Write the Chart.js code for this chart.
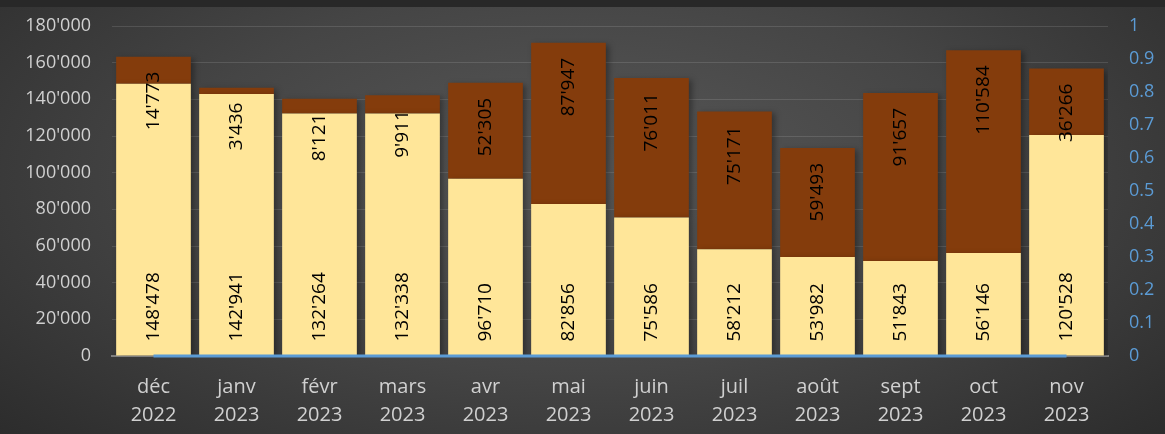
<!DOCTYPE html>
<html lang="fr">
<head>
<meta charset="utf-8">
<title>Graphique mensuel</title>
<script src="https://cdn.jsdelivr.net/npm/chart.js@4.4.1/dist/chart.umd.min.js"></script>
<style>
    html, body { margin: 0; padding: 0; }
    body {
        width: 1165px;
        height: 434px;
        overflow: hidden;
        background: #282828;
    }
    #fond {
        position: absolute;
        left: 0; top: 7px;
        width: 1165px; height: 427px;
        background: radial-gradient(ellipse 70% 90% at 50% 40%, #585858 0%, #454545 50%, #2b2b2b 100%);
    }
    #chartBox { position: absolute; left: 0; top: 0; width: 1165px; height: 434px; }
</style>
</head>
<body>
<div id="fond"></div>
<div id="chartBox"><canvas id="graphique"></canvas></div>
<script>
// Données du graphique
const mois = [
    ['déc', '2022'], ['janv', '2023'], ['févr', '2023'], ['mars', '2023'],
    ['avr', '2023'], ['mai', '2023'], ['juin', '2023'], ['juil', '2023'],
    ['août', '2023'], ['sept', '2023'], ['oct', '2023'], ['nov', '2023']
];
const valeursBas = [148478, 142941, 132264, 132338, 96710, 82856, 75586, 58212, 53982, 51843, 56146, 120528];
const valeursHaut = [14773, 3436, 8121, 9911, 52305, 87947, 76011, 75171, 59493, 91657, 110584, 36266];
const ligneZero = [0, 0, 0, 0, 0, 0, 0, 0, 0, 0, 0, 0];

// Format 148'478
function formatNombre(v) {
    return String(Math.round(v)).replace(/\B(?=(\d{3})+(?!\d))/g, "'");
}

// Étiquettes verticales dans les barres (datasets 1 = bas, 2 = haut)
const etiquettesBarres = {
    id: 'etiquettesBarres',
    afterDatasetsDraw(chart) {
        const ctx = chart.ctx;
        ctx.save();
        ctx.font = '19px "Open Sans"';
        ctx.fillStyle = '#000000';
        ctx.textBaseline = 'middle';
        [1, 2].forEach(idx => {
            const meta = chart.getDatasetMeta(idx);
            const valeurs = chart.data.datasets[idx].data;
            meta.data.forEach((bar, i) => {
                ctx.save();
                if (idx === 1) {
                    ctx.translate(bar.x, bar.base - 14);
                    ctx.textAlign = 'left';
                } else {
                    ctx.translate(bar.x, bar.y + 15);
                    ctx.textAlign = 'right';
                }
                ctx.rotate(-Math.PI / 2);
                ctx.fillText(formatNombre(valeurs[i]), 0, 0);
                ctx.restore();
            });
        });
        ctx.restore();
    }
};

// Ombre légère sous les barres
const ombreBarres = {
    id: 'ombreBarres',
    beforeDatasetDraw(chart, args) {
        if (args.meta.type !== 'bar') return;
        const ctx = chart.ctx;
        ctx.save();
        ctx.shadowColor = 'rgba(0, 0, 0, 0.35)';
        ctx.shadowBlur = 6;
        ctx.shadowOffsetX = 3;
        ctx.shadowOffsetY = 2;
    },
    afterDatasetDraw(chart, args) {
        if (args.meta.type !== 'bar') return;
        chart.ctx.restore();
    }
};

function creerGraphique() {
    const ctx = document.getElementById('graphique').getContext('2d');
    new Chart(ctx, {
        type: 'bar',
        data: {
            labels: mois,
            datasets: [
                {
                    type: 'line',
                    data: ligneZero,
                    yAxisID: 'y1',
                    borderColor: '#5B9BD5',
                    borderWidth: 3,
                    pointRadius: 0,
                    clip: false,
                    order: 0
                },
                {
                    data: valeursBas,
                    backgroundColor: '#FFE699',
                    barPercentage: 0.9,
                    categoryPercentage: 1,
                    order: 1
                },
                {
                    data: valeursHaut,
                    backgroundColor: '#843C0C',
                    barPercentage: 0.9,
                    categoryPercentage: 1,
                    order: 1
                }
            ]
        },
        options: {
            responsive: false,
            animation: false,
            devicePixelRatio: 1,
            layout: { padding: { top: 26, left: 0, right: 0, bottom: 0 } },
            plugins: { legend: { display: false }, tooltip: { enabled: false } },
            scales: {
                x: {
                    stacked: true,
                    grid: { display: false },
                    border: { color: '#7f7f7f', width: 2 },
                    ticks: {
                        color: '#d0d0d0',
                        font: { family: '"Open Sans"', size: 20, lineHeight: 1.4 },
                        padding: 9,
                        maxRotation: 0
                    },
                    afterFit(scale) { scale.height = 78; }
                },
                y: {
                    stacked: true,
                    min: 0,
                    max: 180000,
                    grid: { color: 'rgba(255,255,255,0.12)', drawTicks: false },
                    border: { display: false },
                    ticks: {
                        stepSize: 20000,
                        color: '#d0d0d0',
                        font: { family: '"Open Sans"', size: 18 },
                        padding: 21,
                        callback: v => formatNombre(v)
                    },
                    afterFit(scale) {
                        scale.width = 112;
                        scale.paddingTop = 0;
                        scale.paddingBottom = 0;
                    }
                },
                y1: {
                    position: 'right',
                    min: 0,
                    max: 1,
                    grid: { display: false, drawTicks: false },
                    border: { display: false },
                    ticks: {
                        stepSize: 0.1,
                        color: '#5B9BD5',
                        font: { family: '"Open Sans"', size: 18 },
                        padding: 21,
                        callback: v => String(Number(v.toFixed(1)))
                    },
                    afterFit(scale) {
                        scale.width = 57;
                        scale.paddingTop = 0;
                        scale.paddingBottom = 0;
                    }
                }
            }
        },
        plugins: [ombreBarres, etiquettesBarres]
    });
}

document.addEventListener('DOMContentLoaded', () => {
    const canvas = document.getElementById('graphique');
    canvas.width = 1165;
    canvas.height = 434;
    creerGraphique();
});
</script>
</body>
</html>
